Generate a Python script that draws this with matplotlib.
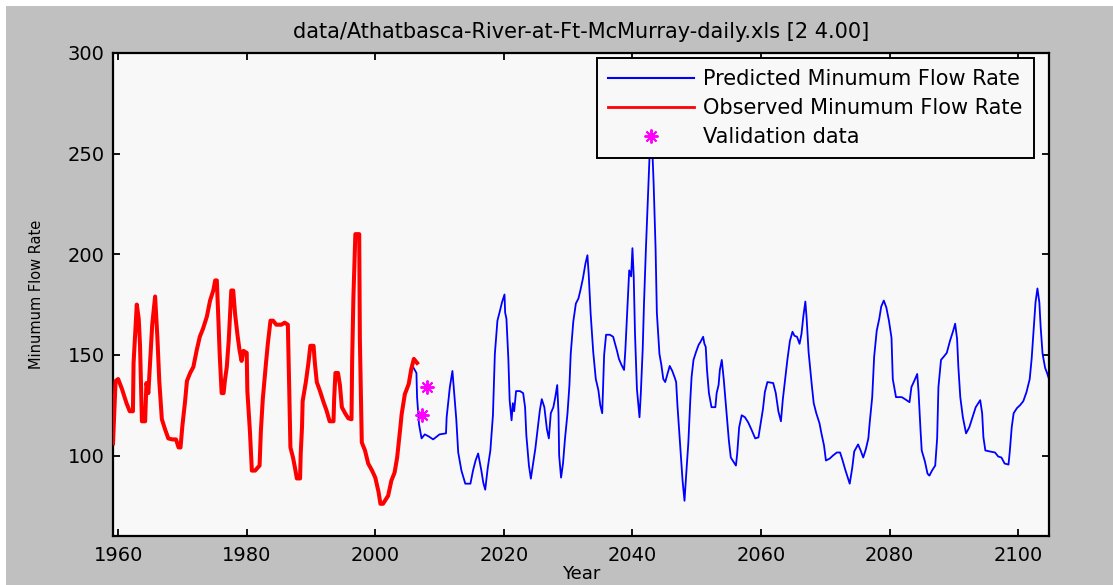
import numpy as np
import matplotlib
matplotlib.use("Agg")
import matplotlib.pyplot as plt
from matplotlib.lines import Line2D
from matplotlib.patches import Rectangle

# observed annual minimum flow (thick red trace)
obs_years = [
    1959.2, 1959.6, 1960.0, 1960.6, 1961.3, 1961.8, 1962.3, 1962.4, 1962.9, 1963.2,
    1963.4, 1963.7, 1964.2, 1964.4, 1964.7, 1965.0, 1965.3, 1965.75, 1966.1, 1966.4,
    1966.8, 1967.3, 1967.8, 1968.4, 1969.0, 1969.4, 1969.7, 1970.0, 1970.4, 1970.7,
    1971.2, 1971.7, 1972.2, 1972.7, 1973.2, 1973.8, 1974.3, 1974.8, 1975.1, 1975.35,
    1975.6, 1975.8, 1976.1, 1976.4, 1976.6, 1976.9, 1977.2, 1977.6, 1977.9, 1978.2,
    1978.6, 1978.9, 1979.2, 1979.5, 1980.0, 1980.1, 1980.5, 1980.8, 1981.3, 1982.0,
    1982.2, 1982.5, 1983.0, 1983.3, 1983.7, 1984.1, 1984.6, 1985.4, 1985.9, 1986.4,
    1986.6, 1986.8, 1987.2, 1987.5, 1987.8, 1988.3, 1988.4, 1988.6, 1988.7, 1989.2,
    1989.6, 1989.9, 1990.4, 1990.6, 1990.9, 1991.4, 1991.9, 1992.4, 1992.9, 1993.5,
    1993.6, 1993.8, 1994.2, 1994.5, 1994.8, 1995.3, 1995.8, 1996.3, 1996.4, 1996.6,
    1996.9, 1997.5, 1997.6, 1997.9, 1998.4, 1998.9, 1999.5, 2000.0, 2000.5, 2000.8,
    2001.2, 2001.5, 2002.0, 2002.5, 2003.0, 2003.4, 2003.9, 2004.1, 2004.6, 2005.2,
    2005.6, 2006.0, 2006.5,
]
obs_flow = [
    106, 137, 138, 133, 126, 122, 122, 146, 175, 168,
    155, 117, 117, 136, 131, 148, 165, 179, 159, 137,
    118, 113, 108.5, 108, 108, 104, 104, 115, 126.5, 137,
    141, 144, 152, 159, 163, 169, 177, 182, 187, 187,
    167, 150, 131, 131, 137, 144, 157, 182, 182, 170,
    159, 152, 147, 152, 151, 132, 112, 92.5, 92.5, 95,
    112, 128, 146, 156, 167, 167, 165, 165, 166, 165,
    135, 104, 99, 94, 88.6, 88.6, 101, 114, 127, 136.5,
    146, 154.5, 154.5, 146, 136.5, 132, 127, 122.5, 117, 117,
    128, 141, 141, 135, 124, 121, 118.5, 118, 147, 179,
    210, 210, 158, 106.5, 102.5, 96, 92.5, 89, 82, 76,
    76, 77.5, 80, 87.5, 91.5, 99, 114, 120.5, 130.5, 135.5,
    143, 148, 146,
]

# model prediction (blue trace)
pred_years = [
    2005.7, 2006.4, 2006.5, 2006.8, 2007.2, 2007.7, 2008.3, 2009.0, 2010.0, 2011.0,
    2011.1, 2011.6, 2012.0, 2012.2, 2012.6, 2012.9, 2013.4, 2014.0, 2014.8, 2015.2,
    2015.6, 2016.0, 2016.5, 2016.8, 2017.1, 2017.5, 2017.9, 2018.3, 2018.6, 2019.0,
    2019.4, 2019.7, 2020.1, 2020.2, 2020.4, 2020.7, 2020.9, 2021.2, 2021.4, 2021.6,
    2021.9, 2022.5, 2023.0, 2023.3, 2023.5, 2023.9, 2024.2, 2024.5, 2024.9, 2025.2,
    2025.6, 2025.9, 2026.3, 2026.7, 2027.0, 2027.3, 2027.7, 2028.0, 2028.3, 2028.5,
    2028.6, 2028.9, 2029.2, 2029.5, 2029.9, 2030.2, 2030.4, 2030.8, 2031.2, 2031.6,
    2031.9, 2032.3, 2032.7, 2033.0, 2033.2, 2033.5, 2033.9, 2034.3, 2034.7, 2035.0,
    2035.3, 2035.6, 2035.9, 2036.5, 2037.0, 2037.3, 2037.6, 2037.9, 2038.3, 2038.7,
    2038.9, 2039.2, 2039.5, 2039.8, 2040.0, 2040.2, 2040.4, 2040.7, 2041.1, 2041.3,
    2041.6, 2041.8, 2042.1, 2042.5, 2042.9, 2043.3, 2043.6, 2043.8, 2044.2, 2044.5,
    2044.8, 2045.1, 2045.4, 2045.8, 2046.2, 2046.6, 2046.8, 2047.0, 2047.4, 2047.8,
    2048.1, 2048.3, 2048.7, 2049.0, 2049.2, 2049.5, 2049.9, 2050.3, 2050.6, 2051.0,
    2051.2, 2051.4, 2051.6, 2051.9, 2052.3, 2052.9, 2053.1, 2053.4, 2053.6, 2053.9,
    2054.2, 2054.6, 2055.0, 2055.3, 2055.7, 2056.1, 2056.3, 2056.6, 2057.0, 2057.5,
    2058.0, 2058.5, 2059.1, 2059.6, 2059.8, 2060.3, 2060.6, 2061.0, 2061.9, 2062.3,
    2062.7, 2063.1, 2063.4, 2063.7, 2064.1, 2064.5, 2064.9, 2065.2, 2065.6, 2066.0,
    2066.3, 2066.6, 2066.9, 2067.1, 2067.4, 2067.9, 2068.2, 2068.6, 2069.1, 2069.4,
    2069.8, 2070.1, 2070.7, 2071.2, 2071.8, 2072.3, 2072.7, 2073.1, 2073.4, 2073.8,
    2074.2, 2074.5, 2075.1, 2075.5, 2075.9, 2076.3, 2076.7, 2076.9, 2077.3, 2077.6,
    2078.0, 2078.4, 2078.7, 2079.1, 2079.5, 2079.9, 2080.3, 2080.5, 2081.0, 2081.9,
    2082.4, 2083.1, 2083.4, 2083.9, 2084.3, 2084.5, 2084.8, 2085.0, 2085.5, 2085.9,
    2086.2, 2086.6, 2087.1, 2087.4, 2087.6, 2088.0, 2088.4, 2088.9, 2089.4, 2089.9,
    2090.2, 2090.5, 2090.7, 2091.0, 2091.4, 2091.9, 2092.4, 2092.9, 2093.4, 2094.1,
    2094.4, 2094.6, 2094.9, 2095.6, 2096.4, 2096.9, 2097.4, 2097.9, 2098.5, 2098.7,
    2099.0, 2099.3, 2099.8, 2100.3, 2100.8, 2101.3, 2101.8, 2102.1, 2102.4, 2102.7,
    2103.0, 2103.3, 2103.5, 2103.8, 2104.2, 2104.5, 2104.8,
]
pred_flow = [
    145, 141, 129, 115.5, 108.5, 110.5, 109.5, 108, 110.5, 111,
    119, 134, 142, 134, 118, 101.5, 92.5, 86, 86, 92.5,
    97.5, 101, 92.5, 86.5, 83, 94, 102.5, 120, 150.5, 167,
    172, 176, 180, 171, 168, 148, 127.5, 117.5, 126, 122,
    132, 132, 131, 124, 110, 95, 88.5, 95, 103.5, 111.5,
    122.5, 128, 124, 113, 108.5, 121, 124, 129, 135, 121,
    100, 89, 96, 108, 121, 135, 150.5, 166.5, 175.5, 178,
    182, 188, 195.5, 199.5, 190, 170.5, 151.5, 138, 132.5, 125,
    121, 150, 160, 160, 159, 155.5, 152, 148, 145, 142.5,
    152.5, 172, 192, 189, 203, 189, 160.5, 133, 119, 130.5,
    153, 175.5, 203, 235, 268, 235, 203, 171, 150.5, 145,
    138, 136.5, 140, 144.5, 142, 138.5, 136.5, 125, 106.5, 87.5,
    77.5, 87.5, 106.5, 127.5, 139, 147.5, 151.5, 155, 156.5, 159,
    155.5, 154, 142.5, 131, 124, 124, 131, 135, 142.5, 147.5,
    138, 123, 107.5, 99, 97, 95, 101, 114, 120, 119,
    116.5, 113, 108.5, 109, 113, 123, 131.5, 136.5, 136, 131,
    122, 117, 128, 136.5, 147.5, 157, 161.5, 159.5, 159, 155.5,
    160.5, 169.5, 176.5, 168, 151.5, 135, 126, 121, 116, 111,
    105, 97.5, 98.5, 100, 101.5, 101.5, 97.5, 93, 90, 86,
    94, 102, 105.5, 102.5, 99, 103, 108.5, 116, 129, 149,
    162, 168, 174, 177, 173.5, 167, 158.5, 138, 129, 129,
    128, 126.5, 134, 137.5, 140.5, 132, 113.5, 102.5, 97, 91,
    90, 92.5, 95, 108.5, 134, 147.5, 149, 151, 157, 162,
    165.5, 158, 144, 129, 119, 111, 114, 119, 124, 127.5,
    121, 109, 102.5, 102, 101.5, 99.5, 99, 96, 95.5, 102,
    114, 121, 123.5, 125, 127, 131.5, 138, 148, 162, 176,
    183, 176, 164, 150.5, 143.5, 141, 138,
]

# held-out validation points
val_years = [2007.2, 2008.0]
val_flow = [120, 134]

x_ticks = [1960, 1980, 2000, 2020, 2040, 2060, 2080, 2100]
y_ticks = [100, 150, 200, 250, 300]

plt.rcParams["font.family"] = ["DejaVu Sans"]

fig = plt.figure(figsize=(11.13, 5.85), dpi=100, facecolor="white")
# grey window background with a thin white margin on top and left
fig.patches.append(Rectangle((6 / 1113, 0), 1, (585 - 6) / 585,
                             transform=fig.transFigure, facecolor="#c0c0c0",
                             edgecolor="none", zorder=-10))

ax = fig.add_axes([113 / 1113, 49 / 585, 936 / 1113, 483 / 585])
ax.set_facecolor("#f8f8f8")

ax.plot(pred_years, pred_flow, color="#0000ff", lw=1.3, zorder=2)
ax.plot(obs_years, obs_flow, color="#ff0000", lw=2.9, zorder=3)
ax.plot(val_years, val_flow, ls="none", marker=(8, 2, 0), ms=10, mew=1.4,
        color="#ff00ff", zorder=4)

ax.set_xlim(1959.2, 2104.8)
ax.set_ylim(60, 300)
ax.set_xticks(x_ticks)
ax.set_yticks(y_ticks)
ax.tick_params(direction="in", length=5, width=1.3, top=True, right=True,
               labelsize=14, colors="black")
ax.tick_params(axis="x", pad=7)
ax.tick_params(axis="y", pad=6)
for sp in ax.spines.values():
    sp.set_linewidth(1.6)

ax.set_title("data/Athatbasca-River-at-Ft-McMurray-daily.xls [2 4.00]",
             fontsize=15, pad=11)
ax.set_xlabel("Year", fontsize=13, labelpad=0)
ax.set_ylabel("Minumum Flow Rate", fontsize=10.5, labelpad=17)

handles = [
    Line2D([], [], color="#0000ff", lw=1.5),
    Line2D([], [], color="#ff0000", lw=2),
    Line2D([], [], ls="none", marker=(8, 2, 0), ms=10, mew=1.4, color="#ff00ff"),
]
labels = ["Predicted Minumum Flow Rate", "Observed Minumum Flow Rate",
          "Validation data"]
leg = ax.legend(handles, labels, loc="upper right",
                bbox_to_anchor=((1034 - 113) / 936, 1 - 5 / 483),
                borderaxespad=0, fancybox=False, framealpha=1,
                fontsize=15, handlelength=4.1, handletextpad=0.45,
                labelspacing=0.42, borderpad=0.55)
leg.get_frame().set_edgecolor("black")
leg.get_frame().set_linewidth(1.4)
leg.get_frame().set_facecolor("#f8f8f8")
leg.set_zorder(10)

fig.savefig("out.png", dpi=100, facecolor=fig.get_facecolor())
